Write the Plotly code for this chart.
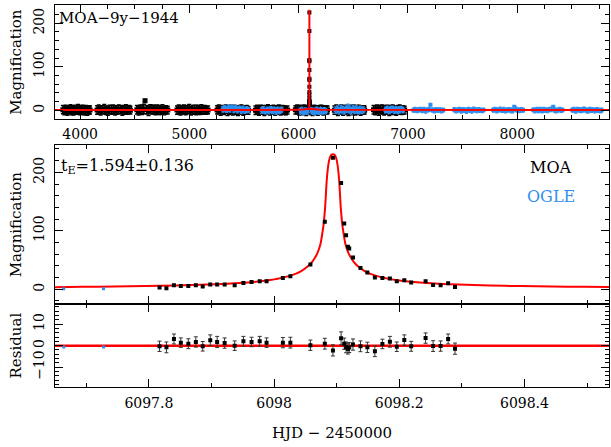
import plotly.graph_objects as go

# ---------------- data ----------------
# MOA event points (HJD-2450000, magnification, residual, residual error)
ev_t = [6097.817, 6097.828, 6097.840, 6097.851, 6097.863, 6097.875, 6097.886, 6097.898,
        6097.909, 6097.921, 6097.937, 6097.951, 6097.964, 6097.977, 6097.988, 6098.014,
        6098.026, 6098.058, 6098.081, 6098.094, 6098.107, 6098.112, 6098.115, 6098.118,
        6098.120, 6098.126, 6098.138, 6098.149, 6098.161, 6098.173, 6098.185, 6098.196,
        6098.208, 6098.219, 6098.242, 6098.254, 6098.266, 6098.278, 6098.289]
ev_A = [2.9, 1.7, 6.9, 5.7, 5.7, 6.9, 4.6, 8.0, 8.0, 8.0, 6.9, 10.9, 12.6, 13.7, 13.7, 19.4,
        22.3, 42.3, 115.4, 225.0, 182.0, 112.6, 92.6, 72.6, 69.7, 54.3, 36.6, 28.6, 20.0,
        19.4, 18.3, 13.7, 15.4, 11.4, 13.7, 7.4, 6.9, 10.3, 4.0]
ev_res = [-0.3, -0.8, 3.1, 1.4, 0.9, 1.7, -0.3, 2.5, 1.7, 1.2, 0.0, 2.0, 1.7, 2.0, 1.4, 1.4,
          1.4, 0.2, 0.9, -2.2, 3.4, 0.9, -0.8, -1.5, -0.9, 0.5, -0.3, -0.8, -2.6, 0.8, 1.8,
          -0.5, 2.6, -0.3, 3.5, -0.2, -0.2, 3.1, -1.4]
ev_err = [2.4, 2.5, 2.3, 2.2, 2.3, 2.4, 2.2, 2.5, 2.6, 2.4, 2.2, 2.3, 2.2, 2.3, 2.2, 2.4,
          2.5, 2.4, 2.5, 2.6, 3.0, 2.6, 2.5, 2.4, 2.3, 2.6, 2.5, 2.4, 2.5, 2.2, 2.5, 2.2,
          2.4, 2.3, 2.4, 2.5, 2.4, 2.3, 2.6]

# OGLE points inside the zoomed window
og_ev_t = [6097.664, 6097.7275]
og_ev_A = [1.0, 1.0]
og_ev_res = [-0.6, -0.6]

# best-fit model curve
model_t = [6097.644, 6097.694, 6097.744, 6097.794, 6097.844, 6097.894, 6097.944, 6097.974,
           6097.994, 6098.014, 6098.034, 6098.044, 6098.054, 6098.059, 6098.064, 6098.069,
           6098.074, 6098.0765, 6098.079, 6098.0815, 6098.084, 6098.0865, 6098.089, 6098.0915,
           6098.094, 6098.0965, 6098.099, 6098.1015, 6098.104, 6098.1065, 6098.109, 6098.1115,
           6098.114, 6098.119, 6098.124, 6098.129, 6098.134, 6098.144, 6098.154, 6098.174,
           6098.194, 6098.214, 6098.244, 6098.294, 6098.344, 6098.394, 6098.444, 6098.494,
           6098.544]
model_A = [3.6, 4.1, 4.6, 5.4, 6.4, 8.0, 10.7, 13.3, 15.9, 19.9, 26.4, 31.6, 39.3, 44.5, 51.8,
           61.5, 77, 92, 110, 140, 185, 212, 225, 230, 231, 230, 225, 212, 185, 140, 110, 92,
           77, 61.5, 51.8, 44.5, 39.3, 31.6, 26.4, 19.9, 15.9, 13.3, 10.7, 8.0, 6.4, 5.4, 4.6,
           4.1, 3.6]
base_t = [3770, 6000, 6200, 8840]
base_A = [1.0, 1.1, 1.1, 1.0]
res_line_t = [6097.6, 6098.6]
res_line_v = [0.0, 0.0]

# MOA baseline (9 seasons)
moa_t = [3842, 3856, 3869, 3884, 3897, 3912, 3925, 3940, 3953, 3968, 3981, 3996, 4009, 4024, 4037, 4052, 4066, 4080, 4091,
         4155, 4171, 4188, 4204, 4221, 4237, 4254, 4270, 4287, 4303, 4320, 4336, 4353, 4369, 4386, 4402, 4419, 4435, 4451, 4460,
         4519, 4535, 4551, 4567, 4583, 4594, 4610, 4626, 4642, 4658, 4674, 4690, 4706, 4722, 4738, 4754, 4770, 4786, 4802,
         4886, 4902, 4918, 4934, 4950, 4966, 4982, 4998, 5014, 5030, 5046, 5062, 5078, 5094, 5110, 5126, 5142, 5158, 5171,
         5253, 5269, 5285, 5301, 5317, 5333, 5349, 5365, 5381, 5397, 5413, 5429, 5445, 5461, 5477, 5493, 5509, 5525, 5541,
         5604, 5620, 5637, 5653, 5670, 5686, 5703, 5719, 5736, 5752, 5769, 5785, 5802, 5818, 5835, 5851, 5868, 5884, 5898,
         5970, 5986, 6003, 6019, 6036, 6052, 6069, 6085, 6110, 6126, 6143, 6159, 6176, 6192, 6209, 6225, 6242, 6256, 6264,
         6327, 6343, 6359, 6375, 6391, 6407, 6423, 6439, 6455, 6471, 6487, 6503, 6519, 6535, 6551, 6567, 6583, 6598, 6604,
         6685, 6701, 6717, 6733, 6749, 6765, 6781, 6797, 6813, 6829, 6845, 6861, 6877, 6893, 6909, 6925, 6941, 6957, 6970]
moa_A = [1.5, 0.2, 2.1, -0.8, 1.0, 2.6, 0.4, -1.2, 1.8, 0.9, 3.0, -0.5, 1.2, 2.2, 0.1, 1.6, -0.9, 1.3, 0.7,
         0.8, 2.0, -0.6, 1.4, 2.8, 0.3, -1.0, 1.9, 1.1, 2.5, -0.3, 0.9, 2.2, 1.6, -0.8, 1.2, 2.9, 0.5, 1.7, 0.4,
         1.2, -0.4, 2.3, 0.7, 3.1, 22.0, 1.5, -1.1, 2.6, 0.9, 1.8, -0.2, 2.4, 1.0, 0.3, 2.7, -0.7, 1.4, 0.6,
         0.6, 1.9, -0.5, 1.3, 2.4, 0.2, 1.7, 3.0, -0.9, 1.1, 2.1, 0.5, 1.6, -0.3, 2.5, 0.8, 1.4, 0.1, 0.9,
         1.0, 2.2, -0.6, 1.5, 0.4, 2.8, -1.2, 1.1, 2.0, -0.4, 1.7, 0.6, -1.5, 1.3, 2.4, -0.8, 0.9, 1.6, 0.2,
         0.3, 1.6, -0.8, 2.1, 0.9, -1.3, 1.4, 2.5, -0.2, 1.0, 1.9, -0.9, 0.7, 2.2, -0.4, 1.2, 0.5, -1.0, 0.8,
         1.1, 2.3, -0.5, 1.8, 0.2, 2.6, -1.1, 1.4, 0.6, -1.4, 1.9, 0.3, -0.8, 1.5, 2.2, -0.6, 1.0, 0.4, 0.9,
         0.5, 1.8, -1.0, 1.2, 2.4, -0.7, 0.9, 2.0, -1.3, 1.5, 0.1, 2.7, -0.4, 1.1, 1.9, -0.9, 0.8, 1.3, 0.4,
         1.3, 0.2, 2.1, -0.6, 1.6, 2.5, -0.3, 1.0, 1.9, -1.0, 0.7, 2.3, 0.4, -0.8, 1.5, 2.0, -0.2, 1.1, 0.6]
moa_err = [9.5, 10.2, 9.8, 10.5, 9.2, 10.0, 10.4, 9.6, 10.1, 9.9, 10.3, 9.7, 10.0, 9.4, 10.6, 9.8, 10.1, 9.5, 9.0,
           9.6, 10.3, 10.0, 9.4, 10.5, 9.9, 10.2, 9.7, 10.1, 9.5, 10.4, 9.8, 10.0, 9.6, 10.3, 9.9, 10.1, 9.7, 9.2, 8.8,
           9.7, 10.4, 10.0, 10.2, 11.0, 3.0, 9.8, 10.6, 10.1, 9.5, 10.3, 10.0, 9.6, 10.4, 9.9, 10.1, 9.7, 9.4, 8.9,
           9.4, 10.1, 10.3, 9.8, 10.0, 10.5, 9.6, 10.2, 9.9, 10.1, 9.7, 10.4, 10.0, 9.5, 10.2, 9.9, 9.6, 9.3, 8.8,
           9.5, 10.0, 10.4, 9.9, 10.2, 9.6, 10.5, 10.1, 9.7, 10.3, 9.9, 10.0, 10.6, 9.8, 10.1, 10.4, 9.7, 9.3, 8.9,
           9.6, 10.2, 10.5, 9.8, 10.0, 10.6, 9.9, 10.1, 10.3, 9.7, 10.0, 10.4, 9.8, 10.2, 10.5, 9.9, 10.1, 9.4, 9.0,
           9.7, 10.1, 10.4, 9.9, 10.3, 9.6, 10.5, 10.0, 10.2, 10.6, 9.8, 10.1, 10.4, 9.9, 9.7, 10.3, 9.8, 9.4, 9.0,
           9.5, 10.2, 10.6, 9.9, 10.0, 10.5, 10.1, 9.7, 10.7, 10.0, 10.3, 9.6, 10.4, 10.1, 9.8, 10.5, 9.9, 9.3, 8.9,
           9.6, 10.3, 9.9, 10.4, 10.0, 9.7, 10.5, 10.1, 9.8, 10.6, 10.2, 9.9, 10.0, 10.4, 9.8, 10.1, 9.6, 9.3, 8.9]

# OGLE baseline
og_t = [5305, 5322, 5340, 5356, 5372, 5390, 5407, 5424, 5440, 5458, 5474, 5492, 5508, 5524, 5538,
        5662, 5678, 5694, 5711, 5727, 5744, 5760, 5777, 5793, 5810, 5826, 5843,
        6012, 6028, 6045, 6061, 6078, 6118, 6135, 6151, 6168, 6184, 6201, 6217, 6234, 6248,
        6338, 6354, 6370, 6386, 6402, 6418, 6434, 6450, 6466, 6482, 6498, 6514, 6530, 6546, 6562, 6578, 6594,
        6795, 6811, 6827, 6843, 6859, 6875, 6891, 6907, 6923, 6939, 6955,
        7050, 7066, 7082, 7098, 7114, 7130, 7146, 7162, 7178, 7194, 7206, 7226, 7242, 7258, 7274, 7290, 7306, 7322,
        7424, 7440, 7456, 7472, 7488, 7504, 7520, 7536, 7552, 7568, 7584, 7600, 7616, 7632, 7648, 7664, 7680, 7692,
        7781, 7797, 7813, 7829, 7845, 7861, 7877, 7893, 7909, 7925, 7941, 7957, 7973, 7989, 8005, 8021, 8037, 8053,
        8147, 8163, 8179, 8195, 8211, 8227, 8243, 8259, 8275, 8291, 8307, 8330, 8339, 8355, 8371, 8387, 8403, 8414,
        8504, 8520, 8536, 8552, 8568, 8584, 8600, 8616, 8632, 8648, 8664, 8680, 8696, 8712, 8728, 8744, 8760, 8772]
og_A = [2.5, 4.0, 1.5, 5.0, 3.0, 6.5, 2.0, 4.5, 1.0, 3.5, 0.5, 2.8, -0.5, 1.8, 0.6,
        -0.5, 1.5, -2.0, 0.8, -1.2, 2.0, -0.8, 1.0, -1.8, 0.4, -1.0, 1.2,
        -2.0, -0.5, -3.0, -1.2, -2.5, -0.8, -3.2, -1.5, -0.2, -2.8, -1.0, -2.2, -0.6, -1.8,
        0.5, 2.0, -1.0, 3.0, 1.2, -0.5, 2.5, 5.0, 1.8, -1.2, 3.5, 0.8, 2.2, -0.8, 1.5, 0.2, 1.0,
        1.0, 2.5, -0.5, 1.8, 3.0, 0.2, 2.2, -0.8, 1.4, 2.8, 0.5,
        0.5, 1.8, -0.6, 1.2, 2.4, 0.2, 1.6, -0.9, 1.0, 2.0, 13.0, 0.8, -0.4, 1.5, 0.3, 1.1, -0.7, 0.6,
        1.2, -0.5, 0.8, 2.0, -1.0, 1.5, 0.3, -1.4, 1.8, 0.6, -0.8, 2.4, 1.0, -0.3, 1.4, 0.2, -0.6, 0.9,
        0.8, 1.6, -0.4, 1.1, 2.2, 0.0, 1.4, -0.7, 0.9, 1.8, 0.3, -0.9, 8.0, 2.0, 0.5, -0.2, 1.2, 0.4,
        1.0, -0.6, 1.8, 0.4, 2.1, -1.0, 1.3, 0.7, -0.3, 1.6, 2.4, 8.0, 1.1, -0.8, 0.6, 1.9, 0.2, 0.8,
        0.6, 1.5, -0.8, 2.0, 0.9, -0.4, 1.3, 2.6, 0.1, -1.1, 1.7, 0.4, 1.0, -0.6, 1.4, 0.2, -0.9, 0.5]
og_err = [6.5, 7.0, 6.2, 7.3, 6.8, 6.0, 7.1, 6.6, 6.9, 6.4, 7.2, 6.7, 6.3, 6.8, 6.0,
          6.5, 7.0, 6.2, 6.8, 7.1, 6.4, 6.9, 6.6, 7.2, 6.7, 6.3, 6.0,
          6.8, 7.2, 6.5, 7.0, 6.7, 7.1, 6.4, 6.9, 7.3, 6.6, 7.0, 6.5, 6.8, 6.2,
          7.5, 8.0, 7.8, 8.2, 7.6, 8.1, 7.9, 9.0, 8.3, 7.7, 8.0, 7.8, 8.2, 7.5, 7.9, 7.4, 7.0,
          6.5, 7.0, 6.8, 7.2, 6.6, 7.1, 6.7, 6.9, 7.3, 6.4, 6.0,
          4.5, 5.0, 4.8, 5.2, 4.6, 5.1, 4.9, 5.3, 4.7, 5.0, 2.5, 4.8, 5.1, 4.6, 5.0, 4.7, 4.9, 4.4,
          4.8, 5.2, 4.6, 5.0, 5.4, 4.7, 5.1, 5.5, 4.9, 5.0, 5.3, 4.8, 5.1, 4.7, 5.0, 4.9, 4.6, 4.3,
          4.6, 5.0, 5.2, 4.8, 5.1, 4.7, 5.3, 4.9, 5.0, 4.6, 5.2, 4.8, 2.5, 5.1, 4.7, 5.0, 4.8, 4.4,
          4.7, 5.1, 4.9, 5.3, 4.6, 5.0, 5.2, 4.8, 5.1, 4.7, 5.0, 2.5, 4.9, 5.2, 4.6, 5.0, 4.8, 4.3,
          4.8, 5.0, 5.3, 4.7, 5.1, 4.9, 5.2, 4.6, 5.0, 5.4, 4.8, 5.1, 4.7, 5.0, 4.9, 4.6, 4.8, 4.3]

panel_label = "MOA\u22129y\u22121944"
te_label = "t<sub>E</sub>=1.594\u00b10.136"
legend_labels = ["MOA", "OGLE"]
legend_A = [208.6, 158.0]
legend_x = 6098.442
res_ticks = [6097.8, 6098.0, 6098.2, 6098.4]

# ---------------- style ----------------
FONT = "DejaVu Serif"
BLACK = "#000000"
BLUE = "#2f8ff0"
RED = "#ff0000"

fig = go.Figure()

# top panel
fig.add_trace(go.Scatter(x=moa_t, y=moa_A, mode="markers", xaxis="x", yaxis="y",
                         marker=dict(color=BLACK, size=5, symbol="square"),
                         error_y=dict(type="data", array=moa_err, color=BLACK, thickness=1.5, width=2),
                         showlegend=False))
fig.add_trace(go.Scatter(x=ev_t, y=ev_A, mode="markers", xaxis="x", yaxis="y",
                         marker=dict(color=BLACK, size=4, symbol="square"), showlegend=False))
fig.add_trace(go.Scatter(x=og_t, y=og_A, mode="markers", xaxis="x", yaxis="y",
                         marker=dict(color=BLUE, size=4, symbol="square"),
                         error_y=dict(type="data", array=og_err, color=BLUE, thickness=1.3, width=1.5),
                         showlegend=False))
fig.add_trace(go.Scatter(x=base_t[:2] + model_t + base_t[2:], y=base_A[:2] + model_A + base_A[2:],
                         mode="lines", xaxis="x", yaxis="y",
                         line=dict(color=RED, width=2), showlegend=False))

# middle panel
fig.add_trace(go.Scatter(x=model_t, y=model_A, mode="lines", xaxis="x2", yaxis="y2",
                         line=dict(color=RED, width=2, shape="spline", smoothing=0.6), showlegend=False))
fig.add_trace(go.Scatter(x=og_ev_t, y=og_ev_A, mode="markers", xaxis="x2", yaxis="y2",
                         marker=dict(color=BLUE, size=3, symbol="square"), showlegend=False))
fig.add_trace(go.Scatter(x=ev_t, y=ev_A, mode="markers", xaxis="x2", yaxis="y2",
                         marker=dict(color=BLACK, size=4, symbol="square"), showlegend=False))

# residual panel
fig.add_trace(go.Scatter(x=res_line_t, y=res_line_v, mode="lines", xaxis="x3", yaxis="y3",
                         line=dict(color=RED, width=2.5), showlegend=False))
fig.add_trace(go.Scatter(x=ev_t, y=ev_res, mode="markers", xaxis="x3", yaxis="y3",
                         marker=dict(color=BLACK, size=4, symbol="square"),
                         error_y=dict(type="data", array=ev_err, color="#333333", thickness=1, width=2),
                         showlegend=False))
fig.add_trace(go.Scatter(x=og_ev_t, y=og_ev_res, mode="markers", xaxis="x3", yaxis="y3",
                         marker=dict(color=BLUE, size=3, symbol="square"), showlegend=False))

common = dict(showline=True, linecolor=BLACK, linewidth=1, mirror="allticks", ticks="inside",
              ticklen=8, tickwidth=1, tickcolor=BLACK, showgrid=False, zeroline=False,
              automargin=False, tickfont=dict(family=FONT, size=14, color=BLACK))
minor_common = dict(ticks="inside", ticklen=4, tickwidth=1, tickcolor=BLACK, showgrid=False)

xr = [6097.65, 6098.535]
top_dom = [0.7003, 1.0]
mid_dom = [0.2165, 0.6335]
res_dom = [0.0, 0.2165]

fig.update_layout(
    template="none",
    width=611, height=447,
    margin=dict(l=55, r=2, t=5, b=60, autoexpand=False),
    paper_bgcolor="white", plot_bgcolor="white",
    font=dict(family=FONT, size=14, color=BLACK),
    showlegend=False,
    xaxis=dict(**common, domain=[0, 1], anchor="y", range=[3770, 8840], tick0=0, dtick=1000,
               tickformat="d", minor=dict(**minor_common, dtick=250), ticklabelstandoff=2),
    yaxis=dict(**common, domain=top_dom, anchor="x", range=[-21, 242], tick0=0, dtick=100,
               tickangle=-90, minor=dict(**minor_common, dtick=20), ticklabelstandoff=4,
               title=dict(text="Magnification", font=dict(family=FONT, size=15), standoff=6)),
    xaxis2=dict(**common, domain=[0, 1], anchor="y2", range=xr, tickmode="array",
                tickvals=res_ticks, showticklabels=False, minor=dict(**minor_common, dtick=0.1)),
    yaxis2=dict(**common, domain=mid_dom, anchor="x2", range=[-25.7, 246.8], tick0=0, dtick=100,
                tickangle=-90, minor=dict(**minor_common, dtick=20), ticklabelstandoff=4,
                title=dict(text="Magnification", font=dict(family=FONT, size=15), standoff=6)),
    xaxis3=dict(**common, domain=[0, 1], anchor="y3", range=xr, tickmode="array",
                tickvals=res_ticks, tickformat="~g",
                minor=dict(**minor_common, dtick=0.1), ticklabelstandoff=3,
                title=dict(text="HJD \u2212 2450000", font=dict(family=FONT, size=15), standoff=17)),
    yaxis3=dict(**common, domain=res_dom, anchor="x3", range=[-19.2, 19.2], tick0=0, dtick=10,
                tickangle=-90, minor=dict(**minor_common, dtick=2), ticklabelstandoff=4,
                title=dict(text="Residual", font=dict(family=FONT, size=15), standoff=6)),
)

fig.add_annotation(text=panel_label, xref="x domain", yref="y domain", x=0.004, y=0.886,
                   xanchor="left", yanchor="middle", showarrow=False,
                   font=dict(family=FONT, size=15, color=BLACK))
fig.add_annotation(text=te_label, xref="x2 domain", yref="y2 domain", x=0.008, y=0.868,
                   xanchor="left", yanchor="middle", showarrow=False,
                   font=dict(family=FONT, size=16, color=BLACK))
fig.add_annotation(text=legend_labels[0], xref="x2", yref="y2", x=legend_x, y=legend_A[0],
                   xanchor="center", yanchor="middle", showarrow=False,
                   font=dict(family=FONT, size=16, color=BLACK))
fig.add_annotation(text=legend_labels[1], xref="x2", yref="y2", x=legend_x, y=legend_A[1],
                   xanchor="center", yanchor="middle", showarrow=False,
                   font=dict(family=FONT, size=16, color=BLUE))

fig.write_html("out.html", config={"displayModeBar": False},
               post_script="document.body.style.margin='0px';")
